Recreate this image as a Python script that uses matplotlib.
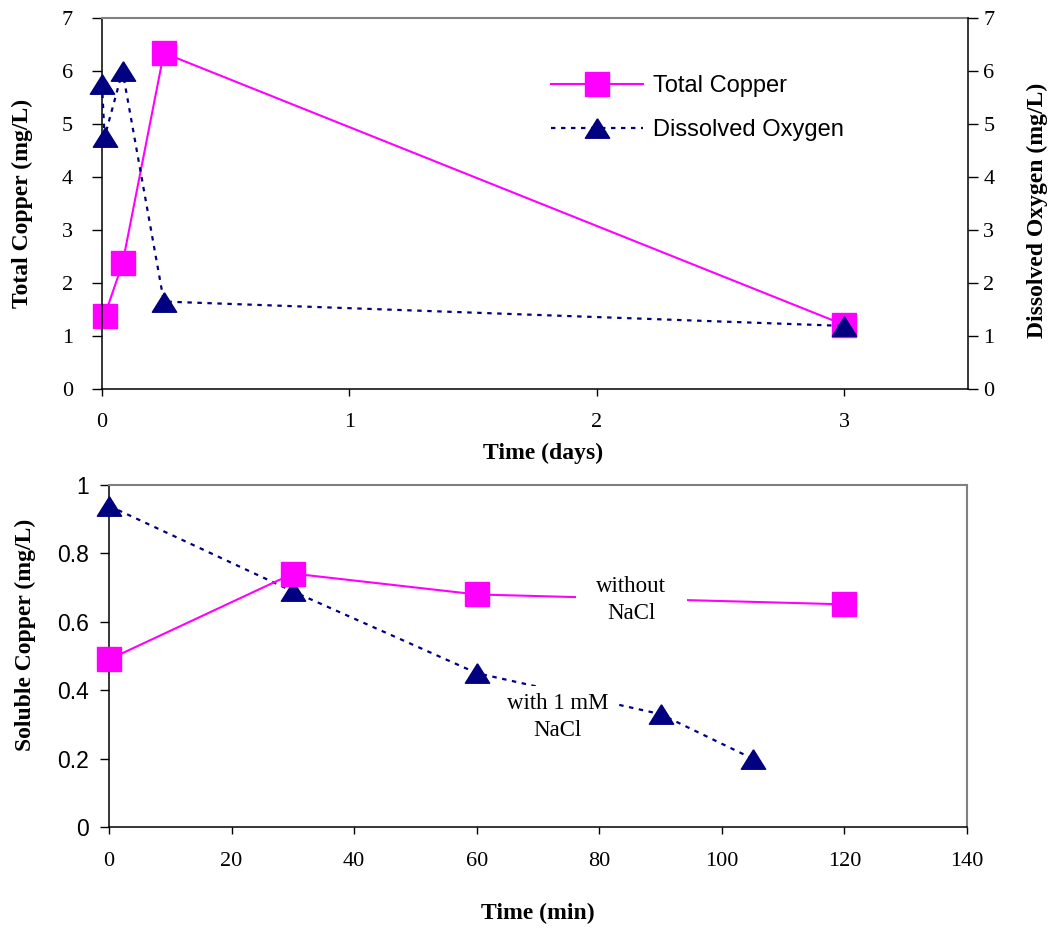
import matplotlib
matplotlib.use("Agg")
import matplotlib.pyplot as plt
from matplotlib.lines import Line2D

# ---------------------------------------------------------------------------
# Data
# ---------------------------------------------------------------------------
cu_days = [0.0104, 0.083, 0.25, 3.0]
cu_total = [1.38, 2.37, 6.34, 1.21]

do_days = [0.0, 0.0104, 0.083, 0.25, 3.0]
do_mgl = [5.76, 4.75, 6.0, 1.65, 1.19]

min_without = [0, 30, 60, 120]
cu_without = [0.49, 0.741, 0.680, 0.651]

min_with = [0, 30, 60, 90, 105]
cu_with = [0.939, 0.689, 0.450, 0.330, 0.200]

top_xticks = [0, 1, 2, 3]
top_yticks = [0, 1, 2, 3, 4, 5, 6, 7]
bot_xticks = [0, 20, 40, 60, 80, 100, 120, 140]
bot_yticks = [0, 0.2, 0.4, 0.6, 0.8, 1.0]
bot_ylabels = ["0", "0.2", "0.4", "0.6", "0.8", "1"]

MAGENTA = "#FF00FF"
NAVY = "#000080"
GREY = "#808080"
SERIF = "Liberation Serif"
SANS = "Liberation Sans"

TRI = [(0, 0.8), (-1, -0.8), (1, -0.8), (0, 0.8)]
MS = 17.5
DOTS = (0, (2.0, 2.5))

W, H = 1060, 931
fig = plt.figure(figsize=(W / 100, H / 100), dpi=100)


def frac(x0, y0, x1, y1):
    return [x0 / W, 1 - y1 / H, (x1 - x0) / W, (y1 - y0) / H]


# ---------------------------------------------------------------------------
# Top panel: total copper and dissolved oxygen vs days
# ---------------------------------------------------------------------------
ax1 = fig.add_axes(frac(102, 18, 968, 389))
ax2 = ax1.twinx()

l_cu, = ax1.plot(cu_days, cu_total, color=MAGENTA, lw=1.5, marker="s",
                 ms=MS, mec=MAGENTA, mfc=MAGENTA, clip_on=False)
l_do, = ax2.plot(do_days, do_mgl, color=NAVY, lw=1.6, linestyle=DOTS,
                 marker=TRI, ms=MS, mec=NAVY, mfc=NAVY, clip_on=False)

ax1.set_xlim(0, 3.5)
ax1.set_ylim(0, 7)
ax2.set_ylim(0, 7)
ax1.set_xticks(top_xticks)
ax1.set_yticks(top_yticks)
ax2.set_yticks(top_yticks)

for sp in ("left", "bottom"):
    ax1.spines[sp].set_color("black")
    ax1.spines[sp].set_linewidth(1.1)
ax1.spines["top"].set_color(GREY)
ax1.spines["top"].set_linewidth(1.5)
ax1.spines["right"].set_visible(False)
for sp in ("top", "left", "bottom"):
    ax2.spines[sp].set_visible(False)
ax2.spines["right"].set_color("black")
ax2.spines["right"].set_linewidth(1.1)

ax1.tick_params(axis="y", direction="out", length=7, width=1, pad=14)
ax1.tick_params(axis="x", direction="out", length=5, width=1, pad=12)
ax2.tick_params(axis="y", direction="out", length=7, width=1, pad=4)
for lab in ax1.get_xticklabels() + ax1.get_yticklabels() + ax2.get_yticklabels():
    lab.set_fontfamily(SERIF)
    lab.set_fontsize(16)

ax1.set_xlabel("Time (days)", fontfamily=SERIF, fontweight="bold",
               fontsize=17, va="center")
ax1.xaxis.set_label_coords(0.509, -0.1725)
ax1.set_ylabel("Total Copper (mg/L)", fontfamily=SERIF, fontweight="bold",
               fontsize=17, va="center", ha="center")
ax1.yaxis.set_label_coords(-0.0924, 0.5)
ax2.set_ylabel("Dissolved Oxygen (mg/L)", fontfamily=SERIF, fontweight="bold",
               fontsize=17, va="center", ha="center", rotation=90)
ax2.yaxis.set_label_coords(1.0797, 0.4825)

ax2.legend([l_cu, l_do], ["Total Copper", "Dissolved Oxygen"],
           loc="upper left", bbox_to_anchor=(0.5185, 0.8465),
           frameon=False, borderpad=0, borderaxespad=0,
           handlelength=3.9, handletextpad=0.42, labelspacing=0.95,
           prop={"family": SANS, "size": 17})

# ---------------------------------------------------------------------------
# Bottom panel: soluble copper vs minutes
# ---------------------------------------------------------------------------
ax3 = fig.add_axes(frac(109, 485, 967, 827))

ax3.plot(min_with, cu_with, color=NAVY, lw=1.6, linestyle=DOTS,
         marker=TRI, ms=MS, mec=NAVY, mfc=NAVY, clip_on=False, zorder=3)
ax3.plot(min_without, cu_without, color=MAGENTA, lw=1.5, marker="s",
         ms=MS, mec=MAGENTA, mfc=MAGENTA, clip_on=False, zorder=4)

ax3.text(85.2, 0.664, "without\nNaCl", ha="center", va="center",
         fontfamily=SERIF, fontsize=16.5, linespacing=1.35, zorder=5,
         bbox=dict(boxstyle="square,pad=0.9", fc="white", ec="none"))
ax3.text(73.2, 0.322, "with 1 mM\nNaCl", ha="center", va="center",
         fontfamily=SERIF, fontsize=16.5, linespacing=1.35, zorder=5,
         bbox=dict(boxstyle="square,pad=0.3", fc="white", ec="none"))

ax3.set_xlim(0, 140)
ax3.set_ylim(0, 1)
ax3.set_xticks(bot_xticks)
ax3.set_yticks(bot_yticks)
ax3.set_yticklabels(bot_ylabels)

for sp in ("left", "bottom"):
    ax3.spines[sp].set_color("black")
    ax3.spines[sp].set_linewidth(1.1)
for sp in ("top", "right"):
    ax3.spines[sp].set_color(GREY)
    ax3.spines[sp].set_linewidth(1.5)

ax3.tick_params(axis="y", direction="out", length=6.5, width=1, pad=8)
ax3.tick_params(axis="x", direction="out", length=5, width=1, pad=13)
for lab in ax3.get_xticklabels():
    lab.set_fontfamily(SERIF)
    lab.set_fontsize(16)
for lab in ax3.get_yticklabels():
    lab.set_fontfamily(SANS)
    lab.set_fontsize(16.5)

ax3.set_xlabel("Time (min)", fontfamily=SERIF, fontweight="bold",
               fontsize=17, va="center")
ax3.xaxis.set_label_coords(0.5, -0.254)
ax3.set_ylabel("Soluble Copper (mg/L)", fontfamily=SERIF, fontweight="bold",
               fontsize=17, va="center", ha="center")
ax3.yaxis.set_label_coords(-0.0979, 0.561)

fig.savefig("out.png", dpi=100)
